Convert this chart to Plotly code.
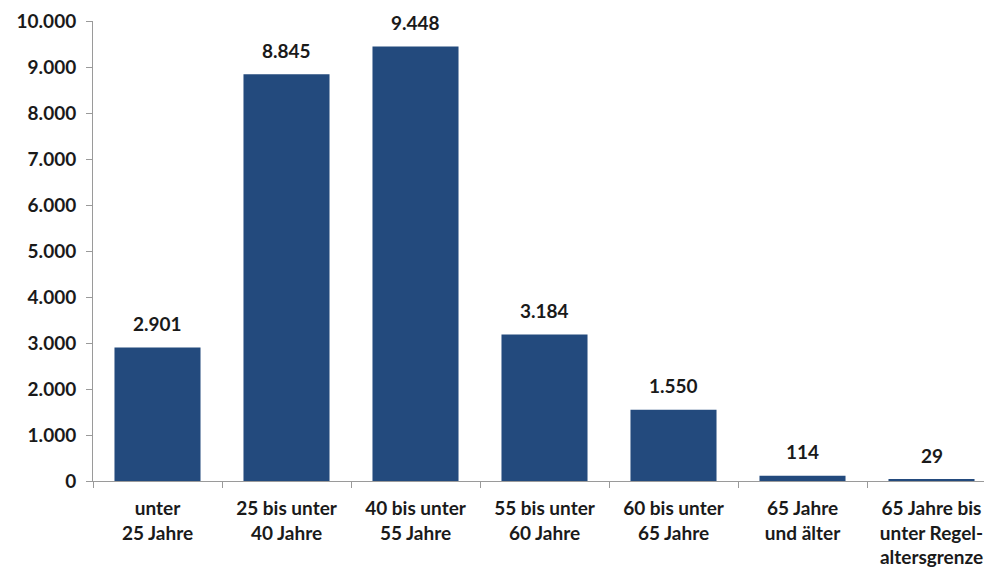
import plotly.graph_objects as go

# Altersgruppen und Anzahl
categories = [
    "unter<br>25 Jahre",
    "25 bis unter<br>40 Jahre",
    "40 bis unter<br>55 Jahre",
    "55 bis unter<br>60 Jahre",
    "60 bis unter<br>65 Jahre",
    "65 Jahre<br>und älter",
    "65 Jahre bis<br>unter Regel-<br>altersgrenze",
]
values = [2901, 8845, 9448, 3184, 1550, 114, 29]
y_ticks = [0, 1000, 2000, 3000, 4000, 5000, 6000, 7000, 8000, 9000, 10000]


def de_format(v):
    return f"{v:,}".replace(",", ".")


FONT = "Lato"
BAR = "#234A7D"
SIZE = 19

fig = go.Figure(
    go.Bar(
        x=categories,
        y=values,
        marker=dict(color=BAR, line=dict(width=0)),
        width=0.667,
        hoverinfo="skip",
    )
)

for c, v in zip(categories, values):
    fig.add_annotation(
        x=c, y=v, text=f"<b>{de_format(v)}</b>", showarrow=False,
        yanchor="middle", yshift=24,
        font=dict(family=FONT, size=SIZE, color="#1a1a1a"),
    )

fig.update_layout(
    width=984, height=576,
    margin=dict(l=93, r=0, t=21, b=95, autoexpand=False),
    paper_bgcolor="white", plot_bgcolor="white",
    showlegend=False,
    font=dict(family=FONT, size=SIZE, color="#1a1a1a"),
)
fig.update_xaxes(
    range=[-0.5, 6.407],
    automargin=False,
    showline=True, linecolor="#9a9a9a", linewidth=1,
    ticks="outside", tickson="boundaries", ticklen=6, tickcolor="#9a9a9a",
    showgrid=False,
    tickfont=dict(family=FONT, size=SIZE, color="#1a1a1a", weight="bold"),
    ticklabelstandoff=10,
)
fig.update_yaxes(
    range=[0, 10000],
    automargin=False,
    tickvals=y_ticks,
    ticktext=[de_format(t) for t in y_ticks],
    showline=True, linecolor="#9a9a9a", linewidth=1,
    ticks="outside", ticklen=6, tickcolor="#9a9a9a",
    showgrid=False, zeroline=False,
    tickfont=dict(family=FONT, size=SIZE, color="#1a1a1a", weight="bold"),
    ticklabelstandoff=6,
)

fig.write_html("out.html")
